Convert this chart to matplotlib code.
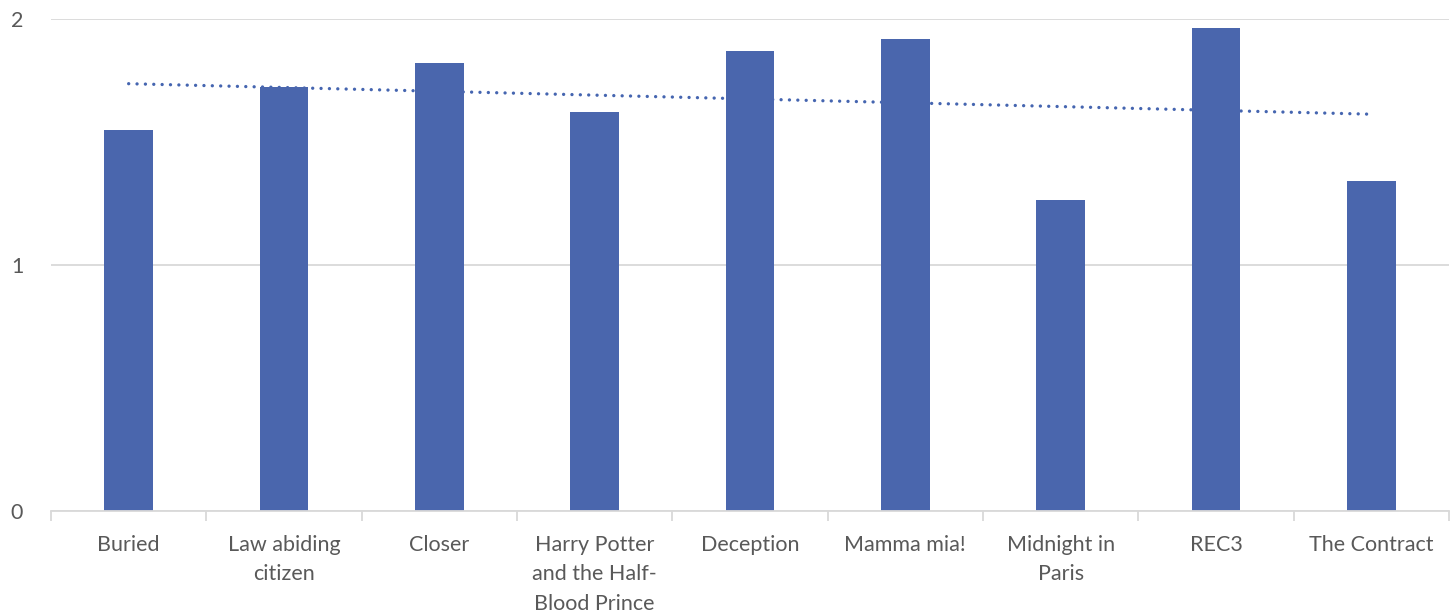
import numpy as np
import matplotlib.pyplot as plt

# data
movies = ["Buried", "Law abiding\ncitizen", "Closer", "Harry Potter\nand the Half-\nBlood Prince",
          "Deception", "Mamma mia!", "Midnight in\nParis", "REC3", "The Contract"]
scores = [1.55, 1.725, 1.82, 1.62, 1.87, 1.92, 1.265, 1.965, 1.34]

plt.rcParams['font.family'] = ['Lato', 'DejaVu Sans']

fig = plt.figure(figsize=(14.5, 6.13), dpi=100)
ax = fig.add_axes([51 / 1450, 1 - 511 / 613, 1398 / 1450, 492 / 613])

x = np.arange(len(movies))

# linear trendline, drawn behind the bars
coef = np.polyfit(x, scores, 1)
ax.plot(x, np.polyval(coef, x), color='#4565b0', lw=2.4,
        linestyle=(0, (0.01, 2.5)), dash_capstyle='round', zorder=1)

ax.bar(x, scores, width=0.315, color='#4a66ad', zorder=2)

ax.set_xlim(-0.5, len(movies) - 0.5)
ax.set_ylim(0, 2)
ax.set_yticks([0, 1, 2])
ax.yaxis.grid(True, color='#d9d9d9', lw=1.3)
ax.set_axisbelow(True)

# category labels and separator ticks
ax.set_xticks(x)
ax.set_xticklabels(movies, fontsize=15.5, color='#595959', linespacing=1.6, va='top')
ax.tick_params(axis='x', length=0, pad=17)
ax.set_xticks(np.arange(-0.5, len(movies)), minor=True)
ax.tick_params(axis='x', which='minor', length=7, color='#d9d9d9', width=1.3)
ax.tick_params(axis='y', length=0, labelsize=15.5, labelcolor='#595959', pad=20)

for side in ['top', 'right', 'left']:
    ax.spines[side].set_visible(False)
ax.spines['bottom'].set_color('#d9d9d9')
ax.spines['bottom'].set_linewidth(1.3)

fig.savefig('out.png', dpi=100)
